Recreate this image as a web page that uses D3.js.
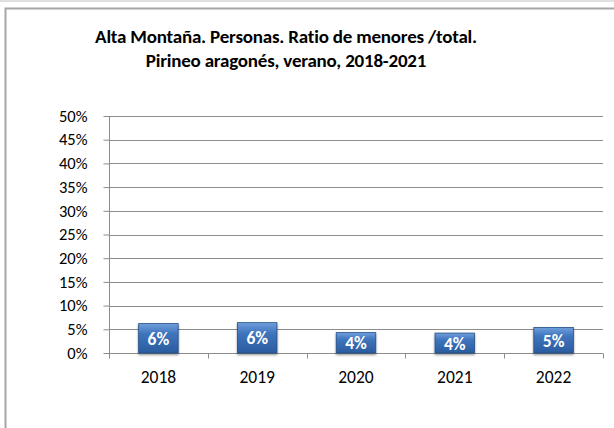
<!DOCTYPE html>
<html><head><meta charset="utf-8">
<script src="https://cdn.jsdelivr.net/npm/d3@7"></script>
<style>body{margin:0;background:#fff}svg{display:block}</style>
</head><body>
<svg id="c" width="614" height="428"></svg>
<script>
const categories = ["2018", "2019", "2020", "2021", "2022"];
const values = [0.062, 0.064, 0.043, 0.042, 0.054];
const labels = ["6%", "6%", "4%", "4%", "5%"];
const yTicks = [0, 0.05, 0.10, 0.15, 0.20, 0.25, 0.30, 0.35, 0.40, 0.45, 0.50];
const titleLines = ["Alta Montaña. Personas. Ratio de menores /total.", "Pirineo aragonés, verano, 2018-2021"];

const svg = d3.select("#c");
const font = "Carlito, Lato, 'Open Sans', sans-serif";

const defs = svg.append("defs");
const g1 = defs.append("linearGradient").attr("id", "bar").attr("x1", 0).attr("y1", 0).attr("x2", 0).attr("y2", 1);
g1.append("stop").attr("offset", "0%").attr("stop-color", "#6f9fdb");
g1.append("stop").attr("offset", "35%").attr("stop-color", "#3f74bd");
g1.append("stop").attr("offset", "100%").attr("stop-color", "#2a5c9e");
const f = defs.append("filter").attr("id", "sh").attr("x", "-20%").attr("y", "-20%").attr("width", "140%").attr("height", "150%");
f.append("feDropShadow").attr("dx", 0).attr("dy", 1.5).attr("stdDeviation", 1.2).attr("flood-color", "#000").attr("flood-opacity", 0.45);

// outer frame
svg.append("line").attr("x1", 0).attr("x2", 614).attr("y1", 1).attr("y2", 1).attr("stroke", "#e0e0e0").attr("stroke-width", 2);
svg.append("rect").attr("x", 5.5).attr("y", 8.5).attr("width", 640).attr("height", 440)
  .attr("fill", "#fff").attr("stroke", "#a6a6a6").attr("stroke-width", 2);

// title
svg.append("text").attr("font-family", font).attr("font-weight", "bold")
  .attr("font-size", 19).attr("text-anchor", "middle").attr("fill", "#000")
  .attr("letter-spacing", -0.2)
  .selectAll("tspan").data(titleLines).join("tspan")
  .attr("x", 286).attr("y", (d, i) => 43 + i * 24).text(d => d);

const x = d3.scaleBand().domain(categories).range([109, 603]).paddingInner(0.6).paddingOuter(0.3);
const xb = d3.scaleBand().domain(categories).range([109, 603]);
const y = d3.scaleLinear().domain([0, 0.5]).range([353, 116]);

// gridlines
svg.append("g").selectAll("line").data(yTicks.slice(1)).join("line")
  .attr("x1", 109).attr("x2", 603).attr("y1", d => Math.round(y(d)) + 0.5).attr("y2", d => Math.round(y(d)) + 0.5)
  .attr("stroke", "#8c8c8c").attr("stroke-width", 1);

// y axis
const ya = svg.append("g").attr("transform", "translate(109.5,0)")
  .call(d3.axisLeft(y).tickValues(yTicks).tickFormat(d3.format(".0%")).tickSize(6).tickPadding(16));
ya.select(".domain").attr("stroke", "#8c8c8c").attr("d", "M0," + y(0.5) + "V" + y(0));
ya.selectAll(".tick line").attr("stroke", "#8c8c8c");
ya.selectAll(".tick text").attr("font-family", font).attr("font-size", 16.5).attr("fill", "#000");

// x axis
const xa = svg.append("g").attr("transform", "translate(0," + (y(0) + 0.5) + ")");
xa.append("line").attr("x1", 109).attr("x2", 603).attr("stroke", "#8c8c8c");
xa.selectAll("line.t").data(categories.concat(["end"])).join("line").attr("class", "t")
  .attr("x1", (d, i) => i < categories.length ? Math.round(xb(d)) + 0.5 : 603.5)
  .attr("x2", (d, i) => i < categories.length ? Math.round(xb(d)) + 0.5 : 603.5)
  .attr("y1", 0).attr("y2", 5).attr("stroke", "#8c8c8c");
xa.selectAll("text").data(categories).join("text")
  .attr("x", d => xb(d) + xb.bandwidth() / 2).attr("y", 29.5)
  .attr("text-anchor", "middle").attr("font-family", font).attr("font-size", 17.5).attr("fill", "#000")
  .text(d => d);

// bars
const bars = svg.append("g");
bars.selectAll("rect").data(values).join("rect")
  .attr("x", (d, i) => x(categories[i])).attr("width", x.bandwidth())
  .attr("y", d => y(d)).attr("height", d => y(0) - y(d))
  .attr("fill", "url(#bar)").attr("stroke", "#244f86").attr("stroke-width", 0.8)
  .attr("filter", "url(#sh)");
bars.selectAll("text").data(values).join("text")
  .attr("x", (d, i) => x(categories[i]) + x.bandwidth() / 2)
  .attr("y", d => (y(d) + y(0)) / 2 + 6.5)
  .attr("text-anchor", "middle").attr("font-family", font).attr("font-weight", "bold")
  .attr("font-size", 17.5).attr("fill", "#fff")
  .text((d, i) => labels[i]);
</script>
</body></html>
